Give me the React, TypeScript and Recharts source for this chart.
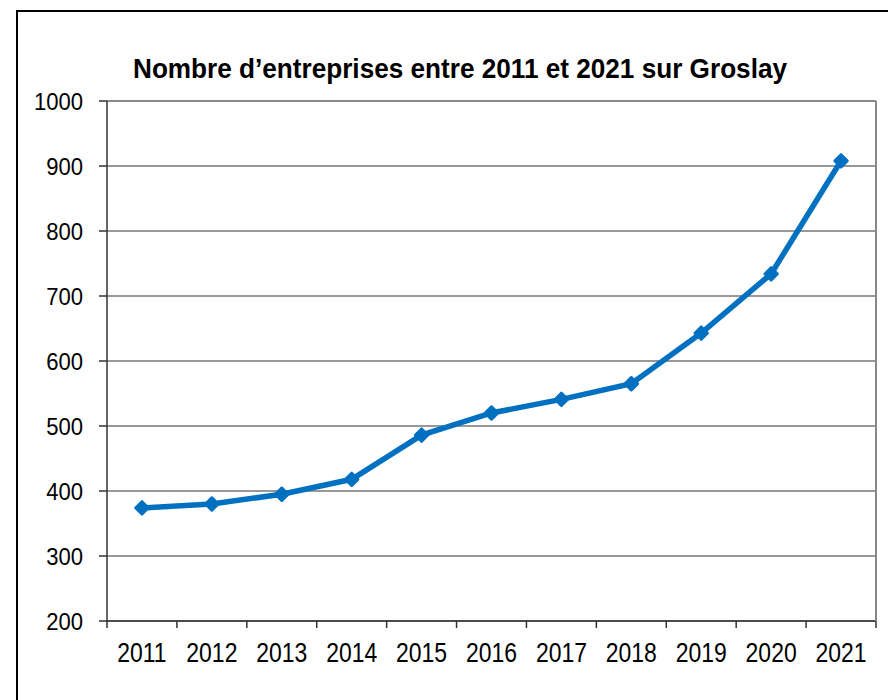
import React from "react";
import { LineChart, Line, XAxis, YAxis, CartesianGrid } from "recharts";

const years = ["2011", "2012", "2013", "2014", "2015", "2016", "2017", "2018", "2019", "2020", "2021"];
const entreprises = [374, 380, 395, 418, 486, 520, 541, 565, 643, 734, 908];
const yTicks = [200, 300, 400, 500, 600, 700, 800, 900, 1000];

const W = 888;
const H = 700;
const PLOT_LEFT = 107;
const PLOT_RIGHT = 876;
const HALF_BAND = (PLOT_RIGHT - PLOT_LEFT) / years.length / 2;

const data = years.map((year, i) => ({ year, value: entreprises[i] }));

const YTick = ({ x, y, payload }: any) => (
  <g transform={`translate(${x},${y + 8.5})`}>
    <text transform="scale(0.92,1)" textAnchor="end" fontSize={24} fill="#000" fontFamily="Liberation Sans, Arial, sans-serif">
      {payload.value}
    </text>
  </g>
);

const XTick = ({ x, y, payload, index }: any) => (
  <g>
    <line x1={x - HALF_BAND} x2={x - HALF_BAND} y1={y} y2={y + 7} stroke="#333" strokeWidth={1.5} />
    {index === years.length - 1 && (
      <line x1={x + HALF_BAND} x2={x + HALF_BAND} y1={y} y2={y + 7} stroke="#333" strokeWidth={1.5} />
    )}
    <g transform={`translate(${x},${y + 41})`}>
      <text transform="scale(0.82,1)" textAnchor="middle" fontSize={28} fill="#000" fontFamily="Liberation Sans, Arial, sans-serif">
        {payload.value}
      </text>
    </g>
  </g>
);

const Diamond = ({ cx, cy, index }: any) => {
  const r = 6.5;
  return (
    <path
      key={`d-${index}`}
      d={`M${cx},${cy - r}L${cx + r},${cy}L${cx},${cy + r}L${cx - r},${cy}Z`}
      fill="#0070C0"
      stroke="#0070C0"
      strokeWidth={2.5}
      strokeLinejoin="round"
    />
  );
};

export default function App() {
  return (
    <div style={{ position: "relative", width: W, height: H, overflow: "hidden", background: "#fff" }}>
      <style>{`body{margin:0}`}</style>
      <div
        style={{
          position: "absolute",
          left: 16,
          top: 10,
          width: 900,
          height: 720,
          border: "2px solid #000",
        }}
      />
      <div style={{ position: "absolute", left: 0, top: 0 }}>
        <LineChart
          width={W}
          height={H}
          data={data}
          margin={{ top: 100, right: 11, bottom: 39, left: 27 }}
        >
          <CartesianGrid vertical={false} stroke="#333" strokeWidth={1.2} />
          <XAxis
            dataKey="year"
            height={40}
            padding={{ left: HALF_BAND, right: HALF_BAND }}
            axisLine={{ stroke: "#333", strokeWidth: 1.5 }}
            tickLine={false}
            tickSize={0}
            tickMargin={0}
            tick={<XTick />}
            interval={0}
          />
          <XAxis
            xAxisId="top"
            dataKey="year"
            orientation="top"
            height={1}
            axisLine={{ stroke: "#888", strokeWidth: 2 }}
            tick={false}
            tickLine={false}
          />
          <YAxis
            domain={[200, 1000]}
            ticks={yTicks}
            width={80}
            interval={0}
            axisLine={{ stroke: "#333", strokeWidth: 1.5 }}
            tickLine={{ stroke: "#333", strokeWidth: 1.5 }}
            tickSize={8}
            tickMargin={16}
            tick={<YTick />}
          />
          <YAxis
            yAxisId="right"
            orientation="right"
            domain={[200, 1000]}
            width={1}
            axisLine={{ stroke: "#888", strokeWidth: 2 }}
            tick={false}
            tickLine={false}
          />
          <Line
            type="linear"
            dataKey="value"
            stroke="#0070C0"
            strokeWidth={5.5}
            dot={<Diamond />}
            activeDot={false}
            isAnimationActive={false}
          />
        </LineChart>
      </div>
      <svg width={W} height={100} style={{ position: "absolute", left: 0, top: 0 }}>
        <text
          x={460}
          y={78}
          textAnchor="middle"
          textLength={654}
          lengthAdjust="spacingAndGlyphs"
          fontSize={27}
          fontWeight="bold"
          fill="#000"
          fontFamily="Liberation Sans, Arial, sans-serif"
        >
          Nombre d’entreprises entre 2011 et 2021 sur Groslay
        </text>
      </svg>
    </div>
  );
}
